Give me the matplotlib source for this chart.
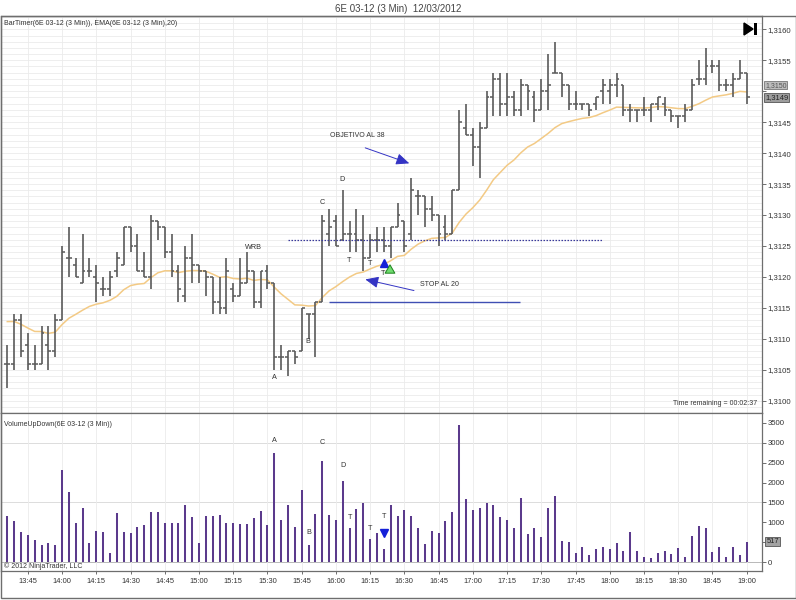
import numpy as np
import pandas as pd
import matplotlib
matplotlib.use("Agg")
import matplotlib.pyplot as plt
from matplotlib.patches import Rectangle, Polygon
from matplotlib.ticker import MultipleLocator, FuncFormatter
import matplotlib.transforms as mtransforms

plt.rcParams['font.family'] = ['Liberation Sans', 'DejaVu Sans']

# 6E 03-12, 3 min bars from 13:36 to 19:00
start_time = "2012-03-12 13:36"

opens = [
    1.3106, 1.3106, 1.3113, 1.3109, 1.3106, 1.3106, 1.3109, 1.3108, 1.3113, 1.3123,
    1.3122, 1.3119, 1.3121, 1.3120, 1.3118, 1.3118, 1.3121, 1.3122, 1.3128, 1.3125,
    1.3121, 1.3120, 1.3129, 1.3128, 1.3124, 1.3121, 1.3117, 1.3123, 1.3122, 1.3121,
    1.3120, 1.3116, 1.3115, 1.3118, 1.3117, 1.3119, 1.3121, 1.3116, 1.3121, 1.3119,
    1.3107, 1.3107, 1.3108, 1.3108, 1.3114, 1.3114, 1.3116, 1.3127, 1.3129, 1.3126,
    1.3127, 1.3127, 1.3126, 1.3123, 1.3126, 1.3126, 1.3125, 1.3128, 1.3129, 1.3127,
    1.3133, 1.3133, 1.3131, 1.3130, 1.3128, 1.3127, 1.3134, 1.3144, 1.3143, 1.3141,
    1.3144, 1.3149, 1.3152, 1.3148, 1.3149, 1.3147, 1.3151, 1.3149, 1.3147, 1.3150,
    1.3153, 1.3153, 1.3151, 1.3148, 1.3148, 1.3148, 1.3148, 1.3150, 1.3150, 1.3151,
    1.3151, 1.3147, 1.3147, 1.3147, 1.3147, 1.3148, 1.3148, 1.3147, 1.3146, 1.3146,
    1.3147, 1.3152, 1.3152, 1.3154, 1.3154, 1.3151, 1.3151, 1.3152, 1.3153]

highs = [
    1.3109, 1.3114, 1.3114, 1.3111, 1.3109, 1.3112, 1.3112, 1.3114, 1.3125, 1.3128,
    1.3123, 1.3127, 1.3123, 1.3122, 1.3120, 1.3121, 1.3124, 1.3128, 1.3128, 1.3127,
    1.3124, 1.3130, 1.3129, 1.3128, 1.3127, 1.3122, 1.3125, 1.3127, 1.3122, 1.3121,
    1.3120, 1.3120, 1.3123, 1.3119, 1.3123, 1.3124, 1.3121, 1.3121, 1.3122, 1.3119,
    1.3109, 1.3108, 1.3108, 1.3115, 1.3114, 1.3116, 1.3130, 1.3131, 1.3130, 1.3134,
    1.3129, 1.3131, 1.3130, 1.3127, 1.3128, 1.3128, 1.3128, 1.3132, 1.3129, 1.3136,
    1.3134, 1.3133, 1.3133, 1.3130, 1.3130, 1.3134, 1.3147, 1.3148, 1.3144, 1.3145,
    1.3150, 1.3153, 1.3153, 1.3153, 1.3150, 1.3152, 1.3151, 1.3150, 1.3152, 1.3156,
    1.3158, 1.3153, 1.3151, 1.3150, 1.3148, 1.3148, 1.3149, 1.3152, 1.3152, 1.3153,
    1.3151, 1.3148, 1.3147, 1.3149, 1.3148, 1.3149, 1.3149, 1.3147, 1.3146, 1.3148,
    1.3152, 1.3155, 1.3157, 1.3155, 1.3155, 1.3152, 1.3153, 1.3155, 1.3153]

lows = [
    1.3102, 1.3105, 1.3107, 1.3105, 1.3105, 1.3106, 1.3105, 1.3107, 1.3113, 1.3120,
    1.3120, 1.3119, 1.3120, 1.3116, 1.3117, 1.3117, 1.3120, 1.3122, 1.3124, 1.3121,
    1.3120, 1.3118, 1.3126, 1.3123, 1.3120, 1.3116, 1.3116, 1.3119, 1.3119, 1.3117,
    1.3114, 1.3114, 1.3114, 1.3116, 1.3117, 1.3119, 1.3115, 1.3115, 1.3118, 1.3105,
    1.3105, 1.3104, 1.3106, 1.3108, 1.3110, 1.3107, 1.3116, 1.3125, 1.3125, 1.3126,
    1.3124, 1.3124, 1.3121, 1.3123, 1.3124, 1.3124, 1.3123, 1.3128, 1.3124, 1.3126,
    1.3130, 1.3128, 1.3129, 1.3125, 1.3126, 1.3127, 1.3134, 1.3143, 1.3138, 1.3136,
    1.3144, 1.3146, 1.3146, 1.3146, 1.3146, 1.3146, 1.3147, 1.3145, 1.3147, 1.3147,
    1.3153, 1.3149, 1.3147, 1.3147, 1.3147, 1.3146, 1.3147, 1.3148, 1.3148, 1.3149,
    1.3146, 1.3145, 1.3145, 1.3146, 1.3145, 1.3147, 1.3146, 1.3145, 1.3144, 1.3145,
    1.3147, 1.3151, 1.3151, 1.3153, 1.3150, 1.3150, 1.3149, 1.3152, 1.3148]

closes = [
    1.3106, 1.3113, 1.3108, 1.3106, 1.3106, 1.3111, 1.3108, 1.3113, 1.3124, 1.3123,
    1.3120, 1.3121, 1.3121, 1.3119, 1.3118, 1.3120, 1.3123, 1.3128, 1.3125, 1.3121,
    1.3120, 1.3129, 1.3128, 1.3124, 1.3121, 1.3118, 1.3123, 1.3122, 1.3121, 1.3120,
    1.3116, 1.3115, 1.3121, 1.3117, 1.3119, 1.3121, 1.3116, 1.3121, 1.3119, 1.3107,
    1.3107, 1.3108, 1.3107, 1.3115, 1.3114, 1.3116, 1.3129, 1.3128, 1.3125, 1.3127,
    1.3127, 1.3126, 1.3123, 1.3126, 1.3126, 1.3125, 1.3128, 1.3130, 1.3125, 1.3134,
    1.3133, 1.3131, 1.3130, 1.3127, 1.3127, 1.3134, 1.3145, 1.3143, 1.3141, 1.3144,
    1.3149, 1.3152, 1.3148, 1.3149, 1.3147, 1.3151, 1.3150, 1.3147, 1.3150, 1.3151,
    1.3153, 1.3151, 1.3148, 1.3148, 1.3148, 1.3147, 1.3149, 1.3151, 1.3151, 1.3152,
    1.3147, 1.3147, 1.3147, 1.3147, 1.3148, 1.3149, 1.3147, 1.3146, 1.3146, 1.3147,
    1.3151, 1.3152, 1.3154, 1.3154, 1.3151, 1.3151, 1.3152, 1.3153, 1.3149]

volumes = [
    1150, 1025, 760, 680, 560, 435, 475, 435, 2310, 1765,
    990, 1350, 485, 790, 765, 240, 1225, 765, 725, 875,
    935, 1260, 1260, 975, 975, 975, 1435, 1125, 490, 1155,
    1155, 1175, 975, 975, 965, 960, 1100, 1285, 935, 2740,
    1060, 1435, 890, 1810, 435, 1210, 2540, 1175, 1060, 2035,
    850, 1340, 1490, 575, 740, 340, 1425, 1155, 1305, 1150,
    850, 450, 780, 725, 1025, 1260, 3450, 1580, 1315, 1350,
    1475, 1425, 1125, 1060, 865, 1600, 710, 855, 640, 1360,
    1660, 535, 515, 240, 375, 185, 335, 390, 325, 475,
    290, 760, 290, 135, 110, 240, 290, 210, 360, 125,
    660, 900, 855, 260, 385, 135, 385, 185, 517]

ema_period = 20
ema_seed = 1.31135   # EMA value carried from the bars before the window

# chart drawings (bar index, price)
bar_labels = [("WRB", 36.0, 1.31247), ("A", 39, 1.31038), ("B", 43.9, 1.31095),
              ("C", 46, 1.31321), ("D", 48.9, 1.31358), ("T", 49.9, 1.31227),
              ("T", 53, 1.31222), ("T", 54.9, 1.31206)]
vol_labels = [("A", 39, 3065), ("B", 44, 740), ("C", 46, 3000), ("D", 49, 2415),
              ("T", 50, 1130), ("T", 53, 857), ("T", 55, 1157)]
signal_bar = 55
entry_bar = 56
target_line = (41, 87, 1.3126)
stop_line = (47, 74.9, 1.3116)

n = len(closes)
idx = np.arange(n)
times = pd.date_range(start_time, periods=n, freq="3min")
ema = pd.Series([ema_seed] + closes).ewm(span=ema_period, adjust=False).mean().values[1:]

W, H = 796, 600
fig = plt.figure(figsize=(W / 100, H / 100), dpi=100)
fig.patch.set_facecolor("white")
ax1 = fig.add_axes([1 / W, (H - 413) / H, 761 / W, (413 - 16) / H])
ax2 = fig.add_axes([1 / W, (H - 571) / H, 761 / W, (571 - 413) / H], sharex=ax1)

frame_col = "#6e6e6e"
txt_col = "#333333"
grid_col = "#ebebeb"

tick_idx = [i for i, t in enumerate(times) if t.minute % 15 == 0]
tick_lab = [times[i].strftime("%H:%M") for i in tick_idx]


def price_fmt(v, p=None):
    # the level under the last-value tags is hidden, like the platform does
    if abs(v - 1.3150) < 1e-7:
        return ""
    return ("%.4f" % v).replace(".", ",")


# ---- price panel
ax1.set_xlim(-0.92, 110.24)
ax1.set_ylim(1.309802, 1.316215)
ax1.yaxis.set_major_locator(MultipleLocator(0.0005))
ax1.yaxis.set_minor_locator(MultipleLocator(0.0001))
ax1.yaxis.set_major_formatter(FuncFormatter(price_fmt))
ax1.yaxis.tick_right()
ax1.tick_params(axis="y", which="major", direction="out", length=3, width=0.7,
                colors=frame_col, labelcolor=txt_col, labelsize=5.6, pad=1)
ax1.tick_params(axis="y", which="minor", length=0)
ax1.set_xticks(tick_idx)
ax1.tick_params(axis="x", length=0, labelbottom=False)
ax1.grid(True, which="both", axis="y", color=grid_col, lw=0.6)
ax1.grid(True, axis="x", color=grid_col, lw=0.6)
ax1.set_axisbelow(True)

bar_col = "#5a5a5a"
ax1.vlines(idx, lows, highs, color=bar_col, lw=1.2, zorder=3)
ax1.hlines(opens, idx - 0.42, idx, color=bar_col, lw=1.1, zorder=3)
ax1.hlines(closes, idx, idx + 0.42, color=bar_col, lw=1.1, zorder=3)
ax1.plot(idx, ema, color="#f3ca85", lw=1.1, zorder=2)

ax1.hlines(target_line[2], target_line[0], target_line[1], color="#3a3a9c",
           lw=0.9, linestyles=(0, (1.2, 1.2)), zorder=4)
ax1.hlines(stop_line[2], stop_line[0], stop_line[1], color="#3f4fb3", lw=1.0, zorder=4)

for t, x, y in bar_labels:
    ax1.text(x, y, t, ha="center", va="center", fontsize=5.2, color=txt_col, zorder=5)

ax1.plot(signal_bar, lows[signal_bar] - 0.00018, marker="^", ms=6, color="#1420d8",
         ls="none", zorder=5)
ax1.annotate("", xy=(entry_bar - 0.1, lows[entry_bar] - 0.00006),
             xytext=(entry_bar - 0.1, lows[entry_bar] - 0.00027),
             arrowprops=dict(arrowstyle="simple,head_width=0.7,head_length=0.6,tail_width=0.35",
                             fc="#6fdc6f", ec="#1c801c", lw=0.7), zorder=5)

arrow_col = "#3434c4"
ax1.text(47.1, 1.31428, "OBJETIVO AL 38", ha="left", va="center", fontsize=5.0, color=txt_col)
ax1.annotate("", xy=(59.1, 1.31382), xytext=(51.9, 1.31410),
             arrowprops=dict(arrowstyle="-|>,head_width=0.35,head_length=0.8",
                             color=arrow_col, lw=0.7, mutation_scale=10))
ax1.text(60.3, 1.31188, "STOP AL 20", ha="left", va="center", fontsize=5.0, color=txt_col)
ax1.annotate("", xy=(51.9, 1.31197), xytext=(59.8, 1.31177),
             arrowprops=dict(arrowstyle="-|>,head_width=0.35,head_length=0.8",
                             color=arrow_col, lw=0.7, mutation_scale=10))

ax1.text(3 / 761, 0.981, "BarTimer(6E 03-12 (3 Min)), EMA(6E 03-12 (3 Min),20)",
         transform=ax1.transAxes, ha="left", va="center", fontsize=5.0, color=txt_col)
ax1.text(0.993, 0.025, "Time remaining = 00:02:37", transform=ax1.transAxes,
         ha="right", va="center", fontsize=5.0, color=txt_col)

# last value tags on the price axis
trans1 = mtransforms.blended_transform_factory(ax1.transAxes, ax1.transData)
ax1.text(1.004, ema[-1] + 0.00011, ("%.4f" % ema[-1]).replace(".", ","), transform=trans1,
         ha="left", va="center", fontsize=5.0, color="#555555", clip_on=False,
         bbox=dict(boxstyle="square,pad=0.12", fc="#bdbdbd", ec="#777777", lw=0.6))
ax1.text(1.004, closes[-1], ("%.4f" % closes[-1]).replace(".", ","), transform=trans1,
         ha="left", va="center", fontsize=5.4, color="#222222", clip_on=False,
         bbox=dict(boxstyle="square,pad=0.15", fc="#9d9d9d", ec="#555555", lw=0.6))

# ---- volume panel
ax2.set_ylim(-217, 3742)
ax2.yaxis.tick_right()
ax2.set_yticks(np.arange(0, 3501, 500))
ax2.set_yticklabels(["" if v == 500 else str(v) for v in range(0, 3501, 500)])
ax2.tick_params(axis="y", direction="out", length=3, width=0.7, colors=frame_col,
                labelcolor=txt_col, labelsize=5.6, pad=1)
ax2.set_xticks(tick_idx)
ax2.set_xticklabels(tick_lab)
ax2.tick_params(axis="x", direction="out", length=2, width=0.7, colors=frame_col,
                labelcolor=txt_col, labelsize=5.4, pad=3)
ax2.grid(True, axis="x", color=grid_col, lw=0.6)
for v in (0, 1500, 3000):
    ax2.axhline(v, color="#dcdcdc" if v else "#b8b8b8", lw=0.7, zorder=0)
ax2.set_axisbelow(True)

ax2.vlines(idx, 0, volumes, color="#5b3a8c", lw=1.45, zorder=3)
for t, x, y in vol_labels:
    ax2.text(x, y, t, ha="center", va="center", fontsize=5.2, color=txt_col, zorder=5)
ax2.plot(signal_bar, volumes[signal_bar] + 390, marker="v", ms=6, color="#1420d8",
         ls="none", zorder=5)

ax2.text(3 / 761, 0.93, "VolumeUpDown(6E 03-12 (3 Min))", transform=ax2.transAxes,
         ha="left", va="center", fontsize=5.0, color=txt_col)
ax2.text(3 / 761, 0.03, "\u00a9 2012 NinjaTrader, LLC", transform=ax2.transAxes,
         ha="left", va="center", fontsize=5.0, color=txt_col)

trans2 = mtransforms.blended_transform_factory(ax2.transAxes, ax2.transData)
ax2.text(1.006, volumes[-1], str(volumes[-1]), transform=trans2, ha="left", va="center",
         fontsize=5.4, color="#222222", clip_on=False,
         bbox=dict(boxstyle="square,pad=0.15", fc="#a3a3a3", ec="#555555", lw=0.6))

for ax in (ax1, ax2):
    for s in ax.spines.values():
        s.set_color(frame_col)
        s.set_linewidth(0.9)

# title and chart frame
fig.text(0.5, 1 - 9 / H, "6E 03-12 (3 Min)  12/03/2012", ha="center", va="center",
         fontsize=7, color="#444444")
fig.add_artist(Rectangle((0.5 / W, 2 / H), 795 / W, 582 / H, transform=fig.transFigure,
                         fill=False, ec=frame_col, lw=1.0))
# "go to last bar" button
fig.add_artist(Polygon([[744 / W, 1 - 23 / H], [744 / W, 1 - 35 / H], [753 / W, 1 - 29 / H]],
                       closed=True, transform=fig.transFigure, fc="black", ec="black"))
fig.add_artist(Rectangle((754 / W, 1 - 35 / H), 2.5 / W, 12 / H, transform=fig.transFigure,
                         fc="black", ec="none"))

fig.savefig("out.png", dpi=100, facecolor="white")
